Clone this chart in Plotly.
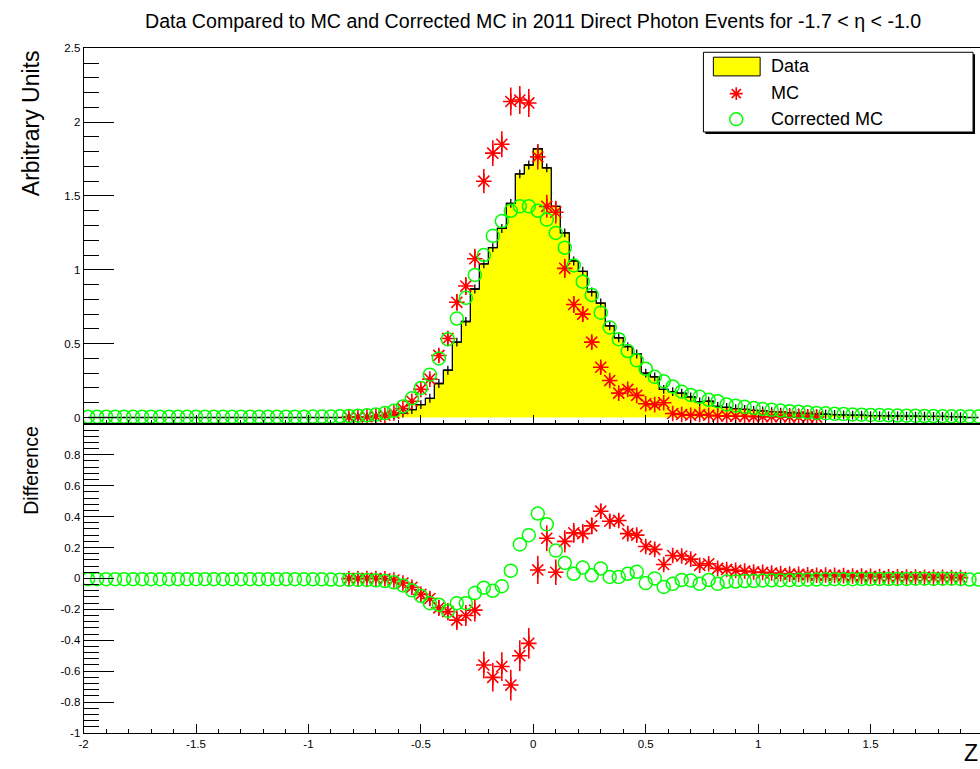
import math
import plotly.graph_objects as go

# ---------------- data ----------------
bin_width = 0.04
bin_centers = [round(-1.98 + bin_width * k, 2) for k in range(100)]

data_vals = [0.0] * 29 + [
    0.002, 0.003, 0.005, 0.008, 0.013, 0.02, 0.03, 0.053, 0.087, 0.13, 0.23,
    0.32, 0.51, 0.65, 0.87, 1.04, 1.15, 1.28, 1.45, 1.65, 1.71,
    1.82, 1.69, 1.43, 1.25, 1.06, 0.99, 0.85, 0.775, 0.62, 0.54, 0.48,
    0.43, 0.30, 0.275, 0.19, 0.175, 0.165, 0.14, 0.105, 0.11, 0.075,
    0.068, 0.060, 0.055, 0.048, 0.045, 0.040, 0.036, 0.032, 0.030, 0.027, 0.024,
    0.022, 0.020, 0.018, 0.016, 0.015, 0.013, 0.012, 0.011, 0.010, 0.009, 0.009,
    0.008, 0.007, 0.007, 0.006, 0.005, 0.0, 0.0]
data_err = 0.03

mc_vals = [0.0] * 29 + [
    0.003, 0.004, 0.005, 0.008, 0.015, 0.03, 0.06, 0.11, 0.19, 0.26, 0.42,
    0.535, 0.78, 0.89, 1.075, 1.60, 1.79, 1.85, 2.14, 2.15, 2.13,
    1.765, 1.43, 1.39, 1.01, 0.765, 0.70, 0.51, 0.34, 0.25, 0.165, 0.19,
    0.15, 0.093, 0.087, 0.10, 0.027, 0.02, 0.015, 0.02, 0.015, 0.01,
    0.010, 0.008, 0.008, 0.006, 0.006, 0.005, 0.005, 0.004, 0.004, 0.003, 0.003,
] + [0.0] * 18

mc_err = [0.0] * 29 + [
    0.002, 0.002, 0.003, 0.004, 0.006, 0.01, 0.015, 0.02, 0.028, 0.033, 0.042,
    0.047, 0.057, 0.061, 0.067, 0.082, 0.087, 0.088, 0.095, 0.095, 0.095,
    0.086, 0.078, 0.077, 0.065, 0.057, 0.054, 0.046, 0.038, 0.032, 0.026, 0.028,
    0.025, 0.02, 0.019, 0.02, 0.011, 0.009, 0.008, 0.009, 0.008, 0.006,
    0.006, 0.006, 0.006, 0.005, 0.005, 0.005, 0.005, 0.004, 0.004, 0.004, 0.004,
] + [0.0] * 18

corr_vals = [0.005] * 25 + [0.006, 0.006, 0.007, 0.008] + [
    0.01, 0.012, 0.015, 0.02, 0.03, 0.045, 0.075, 0.13, 0.20, 0.29, 0.40,
    0.53, 0.67, 0.81, 0.965, 1.10, 1.23, 1.33, 1.40, 1.43, 1.43,
    1.40, 1.34, 1.25, 1.15, 1.03, 0.92, 0.83, 0.71, 0.61, 0.53, 0.45,
    0.387, 0.33, 0.275, 0.245, 0.21, 0.175, 0.153, 0.14, 0.12, 0.11,
    0.088, 0.080, 0.072, 0.065, 0.058, 0.052, 0.047, 0.043, 0.039, 0.035, 0.031,
    0.028, 0.025, 0.023, 0.021, 0.019, 0.017, 0.016, 0.015, 0.013, 0.012, 0.011,
    0.010, 0.010, 0.009, 0.008, 0.008, 0.007, 0.007]

assert len(data_vals) == len(mc_vals) == len(mc_err) == len(corr_vals) == 100

x_tickvals = [-2, -1.5, -1, -0.5, 0, 0.5, 1, 1.5]
x_ticktext = ["-2", "-1.5", "-1", "-0.5", "0", "0.5", "1", "1.5"]
top_tickvals = [0, 0.5, 1, 1.5, 2, 2.5]
top_ticktext = ["0", "0.5", "1", "1.5", "2", "2.5"]
bot_tickvals = [-1, -0.8, -0.6, -0.4, -0.2, 0, 0.2, 0.4, 0.6, 0.8, 1]
bot_ticktext = ["-1", "-0.8", "-0.6", "-0.4", "-0.2", "0", "0.2", "0.4", "0.6", "0.8", ""]

title_text = "Data Compared to MC and Corrected MC in 2011 Direct Photon Events for -1.7 < \u03b7 < -1.0"

# ---------------- geometry helpers (pixels -> paper) ----------------
W, H = 980, 769
def px(x):
    return x / W
def py(y):
    return 1 - y / H

FONT = "Liberation Sans, Arial, Helvetica, sans-serif"
RED = "#ff0000"
GREEN = "#00ff00"

fig = go.Figure()

# ---- top panel ----
fig.add_trace(go.Scatter(
    x=bin_centers, y=data_vals, mode="lines",
    line=dict(color="black", width=1.3, shape="hvh"),
    fill="tozeroy", fillcolor="#ffff00",
    xaxis="x", yaxis="y", showlegend=False, hoverinfo="skip"))

nz = [i for i, v in enumerate(data_vals) if v > 0]
fig.add_trace(go.Scatter(
    x=[bin_centers[i] for i in nz], y=[data_vals[i] for i in nz],
    mode="markers", marker=dict(size=1, color="black"),
    error_x=dict(type="constant", value=bin_width / 2, width=0, thickness=1.3, color="black"),
    error_y=dict(type="constant", value=data_err, width=0, thickness=1.3, color="black"),
    xaxis="x", yaxis="y", showlegend=False, hoverinfo="skip"))

mi = [i for i, v in enumerate(mc_vals) if v > 0]
fig.add_trace(go.Scatter(
    x=[bin_centers[i] for i in mi], y=[mc_vals[i] for i in mi],
    mode="markers",
    marker=dict(symbol="asterisk-open", size=13, color=RED, line=dict(color=RED, width=1.6)),
    error_y=dict(type="data", array=[mc_err[i] for i in mi], width=0, thickness=1.6, color=RED),
    xaxis="x", yaxis="y", showlegend=False, hoverinfo="skip"))

fig.add_trace(go.Scatter(
    x=bin_centers, y=corr_vals, mode="markers",
    marker=dict(symbol="circle-open", size=13, color=GREEN, line=dict(color=GREEN, width=1.5)),
    xaxis="x", yaxis="y", showlegend=False, hoverinfo="skip"))

# ---- bottom panel (differences) ----
di = [i for i in range(100) if data_vals[i] > 0 or mc_vals[i] > 0]
fig.add_trace(go.Scatter(
    x=[bin_centers[i] for i in di],
    y=[data_vals[i] - mc_vals[i] for i in di],
    mode="markers",
    marker=dict(symbol="asterisk-open", size=13, color=RED, line=dict(color=RED, width=1.6)),
    error_y=dict(type="data", array=[math.sqrt(mc_err[i] ** 2 + data_err ** 2) for i in di],
                 width=0, thickness=1.6, color=RED),
    xaxis="x2", yaxis="y2", showlegend=False, hoverinfo="skip"))

fig.add_trace(go.Scatter(
    x=bin_centers, y=[d - c for d, c in zip(data_vals, corr_vals)],
    mode="markers",
    marker=dict(symbol="circle-open", size=13, color=GREEN, line=dict(color=GREEN, width=1.5)),
    xaxis="x2", yaxis="y2", showlegend=False, hoverinfo="skip"))

# ---------------- axes ----------------
x_left, x_right_px = 79, 980
x_range = [-2, -2 + (x_right_px - x_left) / 226.0]
tickfont = dict(family=FONT, size=11.5, color="black")

common_x = dict(
    range=x_range, domain=[px(x_left), 1.0], showgrid=False, zeroline=False,
    showline=True, linecolor="black", linewidth=1, mirror=True,
    ticks="inside", ticklen=9, tickwidth=1, tickcolor="black",
    tickmode="array", tickvals=x_tickvals, ticktext=x_ticktext,
    minor=dict(tickmode="linear", tick0=0, dtick=0.1, ticks="inside", ticklen=4,
               tickcolor="black", tickwidth=1),
    tickfont=tickfont, fixedrange=True)

top_y0, top_y1 = 424.3, 43
bot_y0, bot_y1 = 738.5, 424.5

fig.update_layout(
    width=W, height=H, autosize=False,
    margin=dict(l=0, r=0, t=0, b=0),
    paper_bgcolor="white", plot_bgcolor="white",
    font=dict(family=FONT, color="black"),
    xaxis=dict(common_x, anchor="y", showticklabels=False),
    yaxis=dict(
        domain=[py(top_y0), py(top_y1)], range=[-(top_y0 - 418) / 150.0, 2.5],
        anchor="x", showgrid=False, zeroline=False, showline=True,
        linecolor="black", linewidth=1, mirror=False,
        ticks="inside", ticklen=30, tickwidth=1, tickcolor="black",
        tickmode="array", tickvals=top_tickvals, ticktext=top_ticktext,
        minor=dict(tickmode="linear", tick0=0, dtick=0.1, ticks="inside", ticklen=15,
                   tickcolor="black", tickwidth=1),
        tickfont=tickfont, fixedrange=True),
    xaxis2=dict(common_x, anchor="y2", showticklabels=True),
    yaxis2=dict(
        domain=[py(bot_y0), py(bot_y1)], range=[-1, 1],
        anchor="x2", showgrid=False, zeroline=False, showline=True,
        linecolor="black", linewidth=1, mirror=False,
        ticks="inside", ticklen=30, tickwidth=1, tickcolor="black",
        tickmode="array", tickvals=bot_tickvals, ticktext=bot_ticktext,
        minor=dict(tickmode="linear", tick0=0, dtick=0.04, ticks="inside", ticklen=15,
                   tickcolor="black", tickwidth=1),
        tickfont=tickfont, fixedrange=True),
)

# ---------------- legend (drawn as layout decorations) ----------------
shapes = []
annotations = []
# shadow + box
shapes.append(dict(type="rect", xref="paper", yref="paper",
                   x0=px(704), x1=px(975), y0=py(130), y1=py(49),
                   fillcolor="black", line=dict(width=0), layer="above"))
shapes.append(dict(type="rect", xref="paper", yref="paper",
                   x0=px(702), x1=px(973), y0=py(128), y1=py(47),
                   fillcolor="white", line=dict(color="black", width=1), layer="above"))
# Data swatch
shapes.append(dict(type="rect", xref="paper", yref="paper",
                   x0=px(712), x1=px(759), y0=py(71), y1=py(52),
                   fillcolor="#ffff00", line=dict(color="black", width=1), layer="above"))
# MC star swatch
sx, sy, r = 735, 89, 6.5
d = r * 0.7071
star_path = (f"M{px(sx - r)},{py(sy)} L{px(sx + r)},{py(sy)} "
             f"M{px(sx)},{py(sy - r)} L{px(sx)},{py(sy + r)} "
             f"M{px(sx - d)},{py(sy - d)} L{px(sx + d)},{py(sy + d)} "
             f"M{px(sx - d)},{py(sy + d)} L{px(sx + d)},{py(sy - d)}")
shapes.append(dict(type="path", xref="paper", yref="paper", path=star_path,
                   line=dict(color=RED, width=1.6), layer="above"))
# Corrected MC circle swatch
cx, cy = 735, 115
shapes.append(dict(type="circle", xref="paper", yref="paper",
                   x0=px(cx - 6.5), x1=px(cx + 6.5), y0=py(cy + 6.5), y1=py(cy - 6.5),
                   line=dict(color=GREEN, width=1.5), layer="above"))

for label, yc in [("Data", 61), ("MC", 88), ("Corrected MC", 115)]:
    annotations.append(dict(text=label, xref="paper", yref="paper",
                            x=px(768), y=py(yc), xanchor="left", yanchor="middle",
                            showarrow=False, font=dict(family=FONT, size=18, color="black")))

# titles
annotations.append(dict(text=title_text, xref="paper", yref="paper",
                        x=px(531), y=py(15), xanchor="center", yanchor="middle",
                        showarrow=False, font=dict(family=FONT, size=19.6, color="black")))
annotations.append(dict(text="Arbitrary Units", xref="paper", yref="paper",
                        x=px(26), y=py(43), xanchor="center", yanchor="top",
                        textangle=-90, showarrow=False,
                        font=dict(family=FONT, size=23, color="black")))
annotations.append(dict(text="Difference", xref="paper", yref="paper",
                        x=px(26), y=py(424), xanchor="center", yanchor="top",
                        textangle=-90, showarrow=False,
                        font=dict(family=FONT, size=19.5, color="black")))
annotations.append(dict(text="Z", xref="paper", yref="paper",
                        x=px(980), y=py(759), xanchor="right", yanchor="middle",
                        showarrow=False, font=dict(family=FONT, size=23, color="black")))

fig.update_layout(shapes=shapes, annotations=annotations)

fig.write_html("out.html")
